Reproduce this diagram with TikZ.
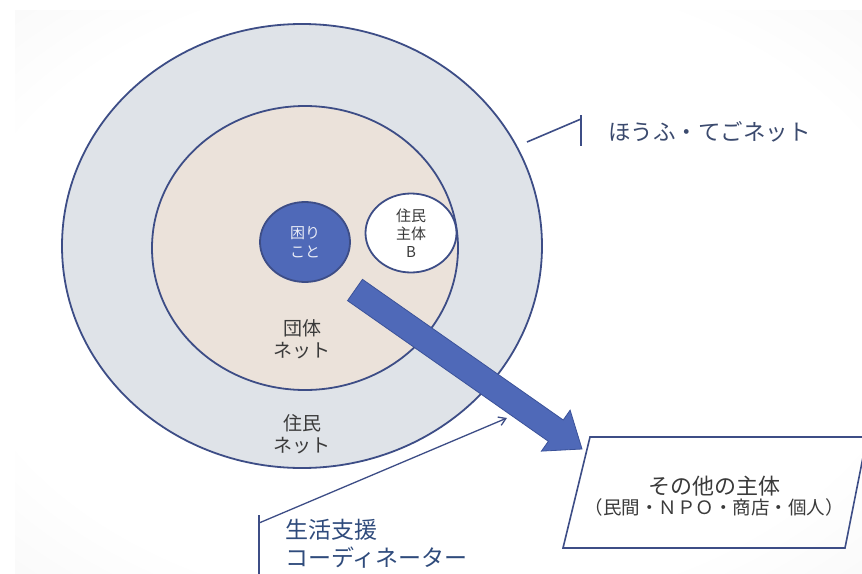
\documentclass[tikz,border=0pt]{standalone}
\usepackage{fontspec}
\setmainfont{Noto Sans CJK JP}
\usetikzlibrary{calc,arrows.meta,shapes.geometric}
\definecolor{navy}{HTML}{3D4D86}
\definecolor{ringgray}{HTML}{DFE3E8}
\definecolor{beige}{HTML}{EBE2DA}
\definecolor{bblue}{HTML}{4F69B8}
\definecolor{bblueline}{HTML}{3B5299}
\definecolor{intext}{HTML}{3A3A3A}
\definecolor{calltext}{HTML}{3B4A6E}
\definecolor{calltextb}{HTML}{2F4B7C}
\pgfdeclareradialshading{bgshade}{\pgfpoint{0bp}{0bp}}{color(0bp)=(white); color(28bp)=(white); color(50bp)=(black!6); color(72bp)=(black!12)}
\begin{document}
\begin{tikzpicture}[x=1pt,y=-1pt,
  ring/.style={ellipse, draw=navy, line width=1.8pt, inner sep=0pt},
  labin/.style={text=intext, align=center, inner sep=0pt},
  callline/.style={draw=navy, line width=1.6pt}]
\useasboundingbox (0,0) rectangle (862,573);
\clip (0,0) rectangle (862,573);
\fill[white] (0,0) rectangle (862,573);
\shade[shading=bgshade] (15,10) rectangle (862,573);

% rings
\node[ring, fill=ringgray, minimum width=480pt, minimum height=444pt] (outer) at (302,246) {};
\node[ring, fill=beige, minimum width=306pt, minimum height=284pt] (inner) at (305,248) {};
\node[ring, fill=bblue, minimum width=90pt, minimum height=80pt,
      text=white!88!bblue, align=center, font=\fontsize{15}{19}\selectfont] (komari) at (305,242) {困り\\こと};
\node[ring, fill=white, minimum width=91pt, minimum height=79pt,
      text=intext, align=center, font=\fontsize{15}{18}\selectfont] (jumin) at (411,233) {住民\\主体\\B};

\node[labin, font=\fontsize{19}{22}\selectfont] (dantai) at (302,339) {団体\\ネット};
\node[labin, font=\fontsize{19}{22}\selectfont] (juminnet) at (302,434) {住民\\ネット};

% big arrow
\coordinate (T) at (355,290);
\coordinate (P) at (582,449);
\coordinate (H) at ($(P)!32pt!(T)$);
\fill[bblue, draw=bblueline, line width=0.8pt, line join=miter]
  ($(T)!13pt!90:(P)$) -- ($(H)!13pt!90:(P)$) -- ($(H)!25pt!90:(P)$) -- (P)
  -- ($(H)!25pt!-90:(P)$) -- ($(H)!13pt!-90:(P)$) -- ($(T)!13pt!-90:(P)$) -- cycle;

% parallelogram
\coordinate (pa) at (590,437);
\coordinate (pb) at (867,437);
\coordinate (pc) at (845,548);
\coordinate (pd) at (563,548);
\draw[navy, line width=1.6pt, line join=miter] (pa) -- (pb) -- (pc) -- (pd) -- cycle;
\node[text=intext, inner sep=0pt, font=\fontsize{22}{24}\selectfont] (sono) at (714,486) {その他の主体};
\node[text=intext, inner sep=0pt, font=\fontsize{18.5}{20}\selectfont] (sonosub) at (714,507) {（民間・ＮＰＯ・商店・個人）};

% callout hofu
\coordinate (h1) at (581,115);
\coordinate (h2) at (581,146);
\coordinate (h3) at (581,119);
\coordinate (h4) at (527,142);
\draw[callline] (h1) -- (h2);
\draw[callline] (h3) -- (h4);
\node[text=calltext, anchor=west, inner sep=0pt, font=\fontsize{22.5}{24}\selectfont] (hofu) at (608,132) {ほうふ・てごネット};

% callout seikatsu
\coordinate (s1) at (259,515);
\coordinate (s2) at (259,580);
\coordinate (s3) at (259,523);
\coordinate (s4) at (507,418);
\draw[callline] (s1) -- (s2);
\draw[callline, line width=1.3pt, -{Straight Barb[length=7pt,width=9pt]}] (s3) -- (s4);
\node[text=calltextb, anchor=west, align=left, inner sep=0pt, font=\fontsize{23}{28}\selectfont] (seikatsu) at (285,544) {生活支援\\コーディネーター};
\end{tikzpicture}
\end{document}
